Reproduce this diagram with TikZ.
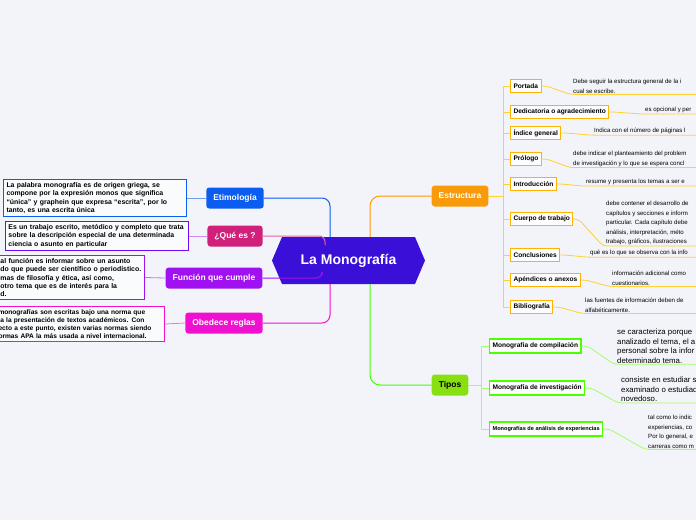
\documentclass[tikz,border=0pt]{standalone}
\usepackage{fontspec}
\setmainfont{Liberation Sans}
\begin{document}
\begin{tikzpicture}[x=1pt,y=-1pt,
 main/.style={rounded corners=3pt,text=white,font=\bfseries\fontsize{8.5}{10}\selectfont,minimum height=21pt,inner xsep=7pt},
 tbox/.style={draw,fill=white!60!bgc,line width=1pt,align=left,font=\bfseries\fontsize{6.9}{8.2}\selectfont,inner sep=3pt},
 sub/.style={draw=orange!60!yellow,fill=white!80!bgc,line width=1pt,font=\bfseries\fontsize{6.6}{8}\selectfont,inner sep=3pt,minimum height=13pt,anchor=west},
 tsub/.style={draw=green!70!yellow,fill=white!80!bgc,line width=1.2pt,font=\bfseries\fontsize{6.6}{8}\selectfont,inner sep=3pt,minimum height=14pt,anchor=west},
 desc/.style={align=left,anchor=north west,font=\fontsize{6.1}{9.5}\selectfont,inner sep=1pt},
 descb/.style={align=left,anchor=north west,font=\fontsize{7.8}{9.4}\selectfont,inner sep=1pt},
 ol/.style={draw=orange!45!yellow!80!white,line width=0.8pt,rounded corners=4pt},
 gl/.style={draw=green!60!yellow!60!white,line width=0.8pt,rounded corners=4pt}]
\definecolor{bgc}{HTML}{F3F4FA}
\fill[bgc] (0,0) rectangle (696,520);
\clip (0,0) rectangle (696,520);
% central
\fill[fill={rgb,255:red,58;green,16;blue,216}] (272,260.5) -- (282,237) -- (415,237) -- (425,260.5) -- (415,284) -- (282,284) -- cycle;
\node[text=white,font=\bfseries\fontsize{14}{16}\selectfont] (c) at (348.5,260.5) {La Monografía};
\coordinate (cl1) at (330,237); \coordinate (cl2) at (325,245);
\coordinate (cl3) at (322,275); \coordinate (cl4) at (330,284);
\coordinate (cr1) at (370,237); \coordinate (cr2) at (370,284);
% left branches
\definecolor{cety}{HTML}{0B5CF0}\definecolor{cque}{HTML}{D0207A}
\definecolor{cfun}{HTML}{A010F0}\definecolor{cobe}{HTML}{F010D0}
\node[main,fill=cety] (ety) at (235,198) {Etimología};
\node[main,fill=cque] (que) at (235,236) {¿Qué es ?};
\node[main,fill=cfun] (fun) at (214,278) {Función que cumple};
\node[main,fill=cobe] (obe) at (224,323) {Obedece reglas};
\draw[cety,line width=1pt,rounded corners=8pt] (ety.east) -| (cl1);
\draw[cque!70,line width=1pt,rounded corners=6pt] (que.east) -| (cl2);
\draw[cfun,line width=1pt,rounded corners=6pt] (fun.east) -| (cl3);
\draw[cobe,line width=1pt,rounded corners=8pt] (obe.east) -| (cl4);
\node[tbox,draw=cety,anchor=west,text width=177pt] (tety) at (3,198) {La palabra monografía es de origen griega, se\\compone por la expresión monos que significa\\“única” y graphein que expresa “escrita”, por lo\\tanto, es una escrita única};
\node[tbox,draw=cfun!70!blue,anchor=west,text width=177pt] (tque) at (5,236) {Es un trabajo escrito, metódico y completo que trata\\sobre la descripción especial de una determinada\\ciencia o asunto en particular};
\node[tbox,draw=cfun,anchor=east,text width=141pt] (tfun) at (145,277.5) {al función es informar sobre un asunto\\do que puede ser científico o periodístico.\\mas de filosofía y ética, así como,\\otro tema que es de interés para la\\d.};
\node[tbox,draw=cobe,anchor=east,text width=163pt,font=\bfseries\fontsize{6.6}{8.2}\selectfont] (tobe) at (165,324) {monografías son escritas bajo una norma que\\la la presentación de textos académicos. Con\\ecto a este punto, existen varias normas siendo\\ormas APA la más usada a nivel internacional.};
\draw[cety!60,line width=0.8pt] (tety.east) -- (ety.west);
\draw[cfun!50,line width=0.8pt] (tque.east) -- (que.west);
\draw[cfun!60,line width=0.8pt] (tfun.east) -- (fun.west);
\draw[cobe!60,line width=0.8pt] (tobe.east) -- (obe.west);
% right
\node[main,fill={rgb,255:red,248;green,154;blue,10}] (est) at (460,196) {Estructura};
\node[main,fill={rgb,255:red,136;green,224;blue,16},text=black] (tip) at (450,385) {Tipos};
\draw[orange!80!yellow,line width=1pt,rounded corners=10pt] (cr1) |- (est.west);
\draw[green!75!yellow,line width=1pt,rounded corners=10pt] (cr2) |- (tip.west);
\coordinate (ev) at (503,196);
\draw[ol] (est.east) -- (ev);
\foreach \n/\t/\y/\dx/\dy/\dt in {
 por/Portada/86/572/78/{Debe seguir la estructura general de la i\\cual se escribe.},
 ded/Dedicatoria o agradecimiento/112/644/106/{es opcional y per},
 ind/Índice general/133/593/127/{Indica con el número de páginas l},
 pro/Prólogo/159/572/150/{debe indicar el planteamiento del problem\\de investigación y lo que se espera concl},
 int/Introducción/184/585/178/{resume y presenta los temas a ser e},
 cue/Cuerpo de trabajo/219/605/200/{debe contener el desarrollo de\\capítulos y secciones e inform\\particular. Cada capítulo debe\\análisis, interpretación, méto\\trabajo, gráficos, ilustraciones},
 con/Conclusiones/255/589/249/{qué es lo que se observa con la info},
 ape/Apéndices o anexos/280/611/270/{información adicional como\\cuestionarios.},
 bib/Bibliografía/307/584/297/{las fuentes de información deben de\\alfabéticamente.}}{
 \node[sub] (\n) at (510,\y) {\t};
 \draw[ol] (ev |- \n) -- (\n.west);
 \node[desc] (d\n) at (\dx,\dy) {\dt};
 \draw[ol] (\n.east) -- ++(5,0) -- ([xshift=-2pt]d\n.south west) -- (696,0 |- d\n.south);
}
\draw[ol,rounded corners=0pt] (ev |- por) -- (ev |- bib);
\coordinate (tv) at (481,385);
\draw[gl] (tip.east) -- (tv);
\foreach \n/\t/\y/\dx/\dy/\dt/\st/\fs in {
 mc/Monografía de compilación/346/616/328/{se caracteriza porque\\analizado el tema, el a\\personal sobre la infor\\determinado tema.}/descb/6.6,
 mi/Monografía de investigación/388/620/376/{consiste en estudiar s\\examinado o estudiad\\novedoso.}/descb/6.6,
 ma/Monografías de análisis de experiencias/429/647/414/{tal como lo indic\\experiencias, co\\Por lo general, e\\carreras como m}/desc/5.6}{
 \node[tsub,font=\bfseries\fontsize{\fs}{8}\selectfont] (\n) at (489,\y) {\t};
 \draw[gl] (tv |- \n) -- (\n.west);
 \node[\st] (d\n) at (\dx,\dy) {\dt};
 \draw[gl] (\n.east) -- ++(6,0) -- ([xshift=-2pt]d\n.south west) -- (696,0 |- d\n.south);
}
\draw[gl,rounded corners=0pt] (tv |- mc) -- (tv |- ma);
\end{tikzpicture}
\end{document}
